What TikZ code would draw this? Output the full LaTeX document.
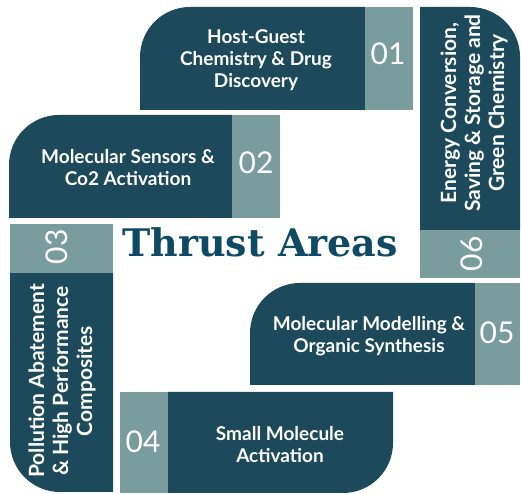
\documentclass[tikz,border=0pt]{standalone}
\usepackage{fontspec}
\setmainfont{Lato}
\newfontfamily\titlefont{DejaVu Serif}
\usepackage{tikz}
\definecolor{deepteal}{HTML}{1C4A5A}
\definecolor{greyteal}{HTML}{7B9C9C}
\definecolor{titleblue}{HTML}{0E4A63}

\begin{document}
\begin{tikzpicture}[x=1pt, y=1pt,
  lbl/.style={text=white, align=center, font=\bfseries\fontsize{19}{22}\selectfont},
  vlbl/.style={text=white, align=center, rotate=90, font=\bfseries\fontsize{21}{24}\selectfont},
  num/.style={text=white, font=\fontsize{30}{30}\selectfont}]

  \useasboundingbox (0,0) rectangle (521,494);

  % 01
  \fill[deepteal] (365,384) -- (140,384) -- (140,437) arc[start angle=180, end angle=90, radius=50] -- (365,487) -- cycle;
  \fill[greyteal] (365,384) rectangle (413,487);
  \node[lbl] (host) at (256,434) {Host-Guest\\Chemistry \& Drug\\Discovery};
  \node[num] (n1) at (388,440) {01};

  % 02
  \fill[deepteal] (232,276) -- (9,276) -- (9,329) arc[start angle=180, end angle=90, radius=50] -- (232,379) -- cycle;
  \fill[greyteal] (232,276) rectangle (280,379);
  \node[lbl] (sensor) at (128,326) {Molecular Sensors \&\\Co2 Activation};
  \node[num] (n2) at (256,331) {02};

  % 03
  \fill[deepteal] (113,221) -- (10,221) -- (10,52) arc[start angle=180, end angle=270, radius=50] -- (113,2) -- cycle;
  \fill[greyteal] (10,221) rectangle (113,270);
  \node[vlbl] (pollution) at (62,113) {Pollution Abatement\\\& High Performance\\Composites};
  \node[num, rotate=90] (n3) at (57,247) {03};

  % 04
  \fill[deepteal] (168,102) -- (393,102) -- (393,51) arc[start angle=0, end angle=-90, radius=50] -- (168,1) -- cycle;
  \fill[greyteal] (120,1) rectangle (168,102);
  \node[lbl] (small) at (280,49) {Small Molecule\\Activation};
  \node[num] (n4) at (143,52) {04};

  % 05
  \fill[deepteal] (475,109) -- (250,109) -- (250,161) arc[start angle=180, end angle=90, radius=50] -- (475,211) -- cycle;
  \fill[greyteal] (475,109) rectangle (520,211);
  \node[lbl] (modelling) at (369,158) {Molecular Modelling \&\\Organic Synthesis};
  \node[num] (n5) at (497,161) {05};

  % 06
  \fill[deepteal] (420,264) -- (420,487) -- (470,487) arc[start angle=90, end angle=0, radius=50] -- (520,264) -- cycle;
  \fill[greyteal] (420,216) rectangle (520,264);
  \node[vlbl] (energy) at (474,381) {Energy Conversion,\\Saving \& Storage and\\Green Chemistry};
  \node[num, rotate=90] (n6) at (472,240) {06};

  \node[text=titleblue, font=\titlefont\bfseries\fontsize{38}{38}\selectfont, anchor=base] (title) at (260,237) {Thrust Areas};

\end{tikzpicture}
\end{document}
